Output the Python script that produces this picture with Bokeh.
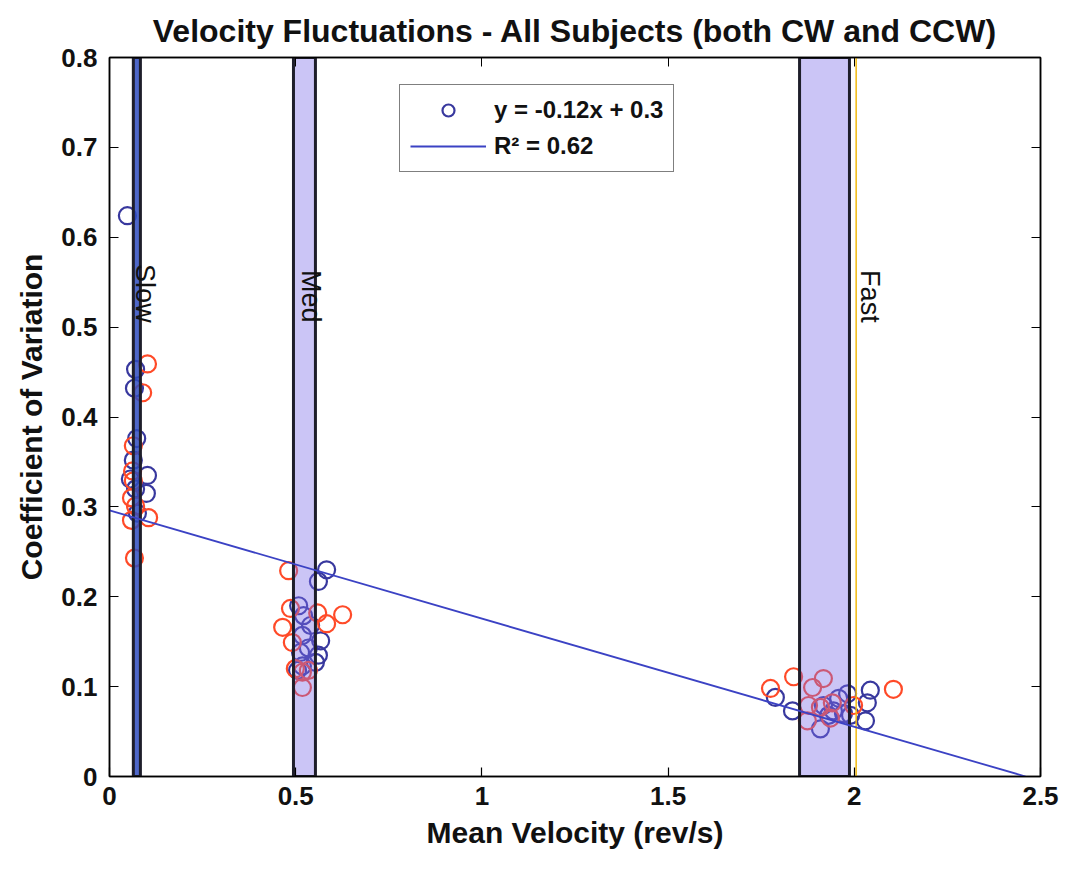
from bokeh.plotting import figure
from bokeh.models import Range1d, LinearAxis, FixedTicker, Legend, LegendItem, Title
from bokeh.core.properties import value
from bokeh.embed import file_html
from bokeh.resources import INLINE
import math

# ---------------- data ----------------
blue_x = [0.048, 0.070, 0.067, 0.073, 0.056, 0.102, 0.099, 0.070, 0.075, 0.064,
          0.583, 0.561, 0.508, 0.521, 0.540, 0.518, 0.567, 0.534, 0.561, 0.513, 0.518, 0.553, 0.505,
          1.788, 1.834, 1.909, 1.917, 1.958, 1.982, 1.971, 2.035, 2.043, 2.030, 1.944, 1.990, 1.931]
blue_y = [0.624, 0.453, 0.432, 0.376, 0.331, 0.335, 0.315, 0.320, 0.293, 0.352,
          0.230, 0.217, 0.190, 0.179, 0.168, 0.157, 0.151, 0.143, 0.135, 0.138, 0.123, 0.127, 0.118,
          0.088, 0.073, 0.053, 0.079, 0.087, 0.092, 0.070, 0.082, 0.096, 0.062, 0.073, 0.068, 0.068]
red_x = [0.102, 0.089, 0.064, 0.062, 0.059, 0.059, 0.105, 0.067, 0.064, 0.070,
         0.481, 0.486, 0.559, 0.626, 0.583, 0.465, 0.491, 0.499, 0.518, 0.534, 0.518,
         1.837, 1.775, 1.917, 1.888, 1.877, 1.909, 1.941, 1.998, 1.874, 1.936, 2.105]
red_y = [0.459, 0.427, 0.368, 0.340, 0.310, 0.285, 0.288, 0.243, 0.329, 0.301,
         0.229, 0.187, 0.182, 0.180, 0.170, 0.166, 0.149, 0.120, 0.116, 0.118, 0.099,
         0.111, 0.098, 0.109, 0.099, 0.079, 0.077, 0.082, 0.079, 0.062, 0.065, 0.097]

fit_x = [0.0, 2.46]
fit_y = [0.296, 0.0]

band_names = ["Slow", "Med", "Fast"]
band_left = [0.064, 0.494, 1.853]
band_right = [0.083, 0.553, 1.987]
band_label_x = [0.055, 0.500, 2.002]
band_label_y = [0.505, 0.505, 0.505]
fast_ref_x = 2.005

x_ticks = [0, 0.5, 1, 1.5, 2, 2.5]
x_tick_labels = ["0", "0.5", "1", "1.5", "2", "2.5"]
y_ticks = [0, 0.1, 0.2, 0.3, 0.4, 0.5, 0.6, 0.7, 0.8]
y_tick_labels = ["0", "0.1", "0.2", "0.3", "0.4", "0.5", "0.6", "0.7", "0.8"]

title_text = "Velocity Fluctuations - All Subjects (both CW and CCW)"
legend_labels = ["y = -0.12x + 0.3", "R\u00b2 = 0.62"]

FONT = "Liberation Sans"
BLUE = "#38389e"
RED = "#ff4a28"

# ---------------- figure ----------------
p = figure(width=1062, height=865, x_range=Range1d(0, 2.5), y_range=Range1d(0, 0.8),
           output_backend="svg", toolbar_location=None,
           min_border_left=109, min_border_right=22, min_border_top=57, min_border_bottom=89)
p.xgrid.visible = False
p.ygrid.visible = False
p.outline_line_color = "black"
p.outline_line_width = 1.5
p.background_fill_color = "white"
p.border_fill_color = "white"

p.title = Title(text=title_text, align="center", text_font=FONT, text_font_size="32px",
                text_font_style="bold", text_color="#111111", standoff=18)

# scatter points
blue_r = p.scatter(blue_x, blue_y, marker="circle", size=17, fill_color=None,
                   line_color=BLUE, line_width=2.2)
p.scatter(red_x, red_y, marker="circle", size=17, fill_color=None,
          line_color=RED, line_width=2.2)

# bands (drawn over points, semi-transparent)
fills = ["#2f4cc0", "#7c6ee8", "#7c6ee8"]
alphas = [0.85, 0.4, 0.4]
for i in range(3):
    p.quad(left=[band_left[i]], right=[band_right[i]], bottom=[0], top=[0.8],
           fill_color=fills[i], fill_alpha=alphas[i], line_color="#1e1e2a", line_width=3)

# yellow reference line
p.segment(x0=[fast_ref_x], y0=[0], x1=[fast_ref_x], y1=[0.8], line_color="#f2b90f", line_width=1.5)

# fit line
fit_r = p.line(fit_x, fit_y, line_color="#3b42c4", line_width=1.8)

# band labels
p.text(x=band_label_x, y=band_label_y, text=band_names, angle=-math.pi / 2,
       text_align="right", text_baseline="bottom", text_font=value(FONT),
       text_font_size="27px", text_color="#111111")

# axes
for ax, ticks, labels in ((p.xaxis[0], x_ticks, x_tick_labels), (p.yaxis[0], y_ticks, y_tick_labels)):
    ax.ticker = FixedTicker(ticks=ticks)
    ax.major_label_overrides = {t: l for t, l in zip(ticks, labels)}
    ax.major_tick_in = 9
    ax.major_tick_out = 0
    ax.minor_tick_line_color = None
    ax.axis_line_color = "black"
    ax.axis_line_width = 1.5
    ax.major_tick_line_width = 1.2
    ax.major_label_text_font = FONT
    ax.major_label_text_font_style = "bold"
    ax.major_label_text_font_size = "26px"
    ax.major_label_text_color = "#111111"
    ax.axis_label_text_font = FONT
    ax.axis_label_text_font_style = "bold"
    ax.axis_label_text_font_size = "30px"
    ax.axis_label_text_color = "#111111"

p.xaxis.axis_label = "Mean Velocity (rev/s)"
p.yaxis.axis_label = "Coefficient of Variation"
p.xaxis.major_label_standoff = 10
p.yaxis.major_label_standoff = 12
p.xaxis.axis_label_standoff = 8
p.yaxis.axis_label_standoff = 10

top_ax = LinearAxis(ticker=FixedTicker(ticks=x_ticks), major_tick_in=9, major_tick_out=0,
                    minor_tick_line_color=None,
                    major_label_overrides={t: "" for t in x_ticks},
                    major_label_standoff=0, axis_line_width=1.5)
right_ax = LinearAxis(ticker=FixedTicker(ticks=y_ticks), major_tick_in=9, major_tick_out=0,
                      minor_tick_line_color=None,
                      major_label_overrides={t: "" for t in y_ticks},
                      major_label_standoff=0, axis_line_width=1.5)
p.add_layout(top_ax, "above")
p.add_layout(right_ax, "right")

# legend
legend = Legend(items=[LegendItem(label=legend_labels[0], renderers=[blue_r]),
                       LegendItem(label=legend_labels[1], renderers=[fit_r])],
                location=(290, 604), glyph_width=76, glyph_height=30,
                label_text_font=FONT, label_text_font_style="bold", label_text_font_size="24px",
                label_text_color="#111111", border_line_color="black", border_line_width=1.5,
                padding=10, spacing=6, label_standoff=8, margin=0,
                background_fill_color="white", background_fill_alpha=1.0)
p.add_layout(legend, "center")

open("out.html", "w").write(file_html(p, INLINE))
